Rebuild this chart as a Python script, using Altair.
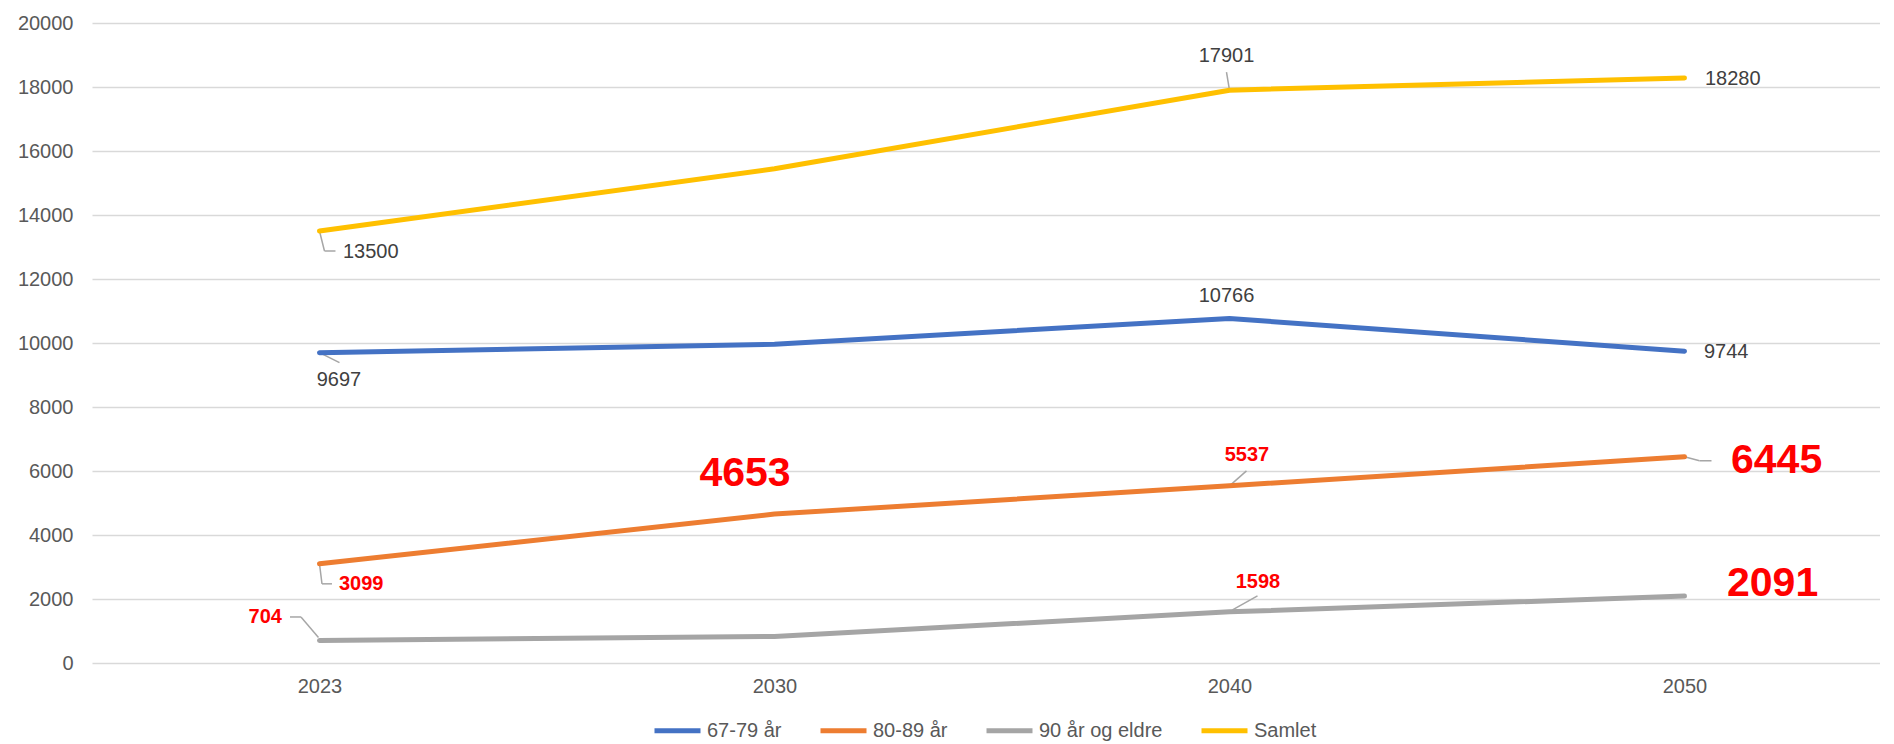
import altair as alt
import pandas as pd

# ---- data ----
years = ["2023", "2030", "2040", "2050"]
series_names = ["67-79 år", "80-89 år", "90 år og eldre", "Samlet"]
age_67_79 = [9697, 9960, 10766, 9744]
age_80_89 = [3099, 4653, 5537, 6445]
age_90_plus = [704, 830, 1598, 2091]
samlet = [13500, 15443, 17901, 18280]
y_ticks = [0, 2000, 4000, 6000, 8000, 10000, 12000, 14000, 16000, 18000, 20000]

colors = ["#4472C4", "#ED7D31", "#A5A5A5", "#FFC000"]
FONT = "Liberation Sans"

rows = []
for name, vals in zip(series_names, [age_67_79, age_80_89, age_90_plus, samlet]):
    for yr, v in zip(years, vals):
        rows.append({"series": name, "year": yr, "value": v})
df = pd.DataFrame(rows)

x_enc = alt.X(
    "year:O",
    sort=years,
    scale=alt.Scale(type="point", padding=0.4648, align=0.5378),
    axis=alt.Axis(title=None, labelAngle=0, labelFontSize=20, labelFont=FONT,
                  labelColor="#595959", labelPadding=13, ticks=False, tickSize=0,
                  domain=False, grid=False),
)
y_enc = alt.Y(
    "value:Q",
    scale=alt.Scale(domain=[0, 20000], nice=False),
    axis=alt.Axis(title=None, values=y_ticks, format="d", labelFontSize=20,
                  labelFont=FONT, labelColor="#595959", labelPadding=19,
                  ticks=False, tickSize=0, domain=False, gridColor="#D9D9D9",
                  gridWidth=1.5, minExtent=79, maxExtent=79),
)
color_enc = alt.Color(
    "series:N",
    scale=alt.Scale(domain=series_names, range=colors),
    legend=alt.Legend(title=None, orient="none", legendX=560, legendY=682,
                      direction="horizontal",
                      symbolType="stroke", symbolStrokeWidth=5, symbolSize=2116,
                      labelFontSize=20, labelFont=FONT, labelColor="#595959",
                      columnPadding=28, labelOffset=4, padding=0),
)

base = alt.Chart(df)


def sel(s, yr):
    return (alt.datum.series == s) & (alt.datum.year == yr)


# leader lines (pixel offsets from the data point)
leader_specs = [
    ("Samlet", "2023", [(0, 0, 5, 20), (5, 20, 16, 20)]),
    ("Samlet", "2040", [(0, 0, -3, -18)]),
    ("67-79 år", "2023", [(0, 0, 20, 10)]),
    ("80-89 år", "2023", [(0, 0, 2.5, 20), (2.5, 20, 12.5, 20)]),
    ("90 år og eldre", "2023", [(-1, -3, -18.5, -23.5), (-18.5, -23.5, -29.5, -23.5)]),
    ("80-89 år", "2040", [(0, 0, 17, -15)]),
    ("90 år og eldre", "2040", [(3, -2, 28, -16)]),
    ("80-89 år", "2050", [(0, 0, 15, 4), (15, 4, 27, 4)]),
]

layers = []
for s, yr, segs in leader_specs:
    for (x1, y1, x2, y2) in segs:
        layers.append(
            base.transform_filter(sel(s, yr))
            .mark_rule(color="#A6A6A6", strokeWidth=1.5,
                       xOffset=x1, yOffset=y1, x2Offset=x2, y2Offset=y2)
            .encode(x=x_enc, y=y_enc, x2="year:O", y2="value:Q")
        )

lines = base.mark_line(strokeWidth=5, strokeCap="round", strokeJoin="round").encode(
    x=x_enc, y=y_enc, color=color_enc
)
layers.append(lines)

GREY = "#404040"
RED = "#FF0000"
label_specs = [
    ("Samlet", "2023", 20, GREY, "normal", "left", 23.5, 21),
    ("Samlet", "2040", 20, GREY, "normal", "center", -3, -34),
    ("Samlet", "2050", 20, GREY, "normal", "left", 20.5, 1),
    ("67-79 år", "2023", 20, GREY, "normal", "center", 19.5, 27),
    ("67-79 år", "2040", 20, GREY, "normal", "center", -3, -22.5),
    ("67-79 år", "2050", 20, GREY, "normal", "left", 19.5, 1),
    ("80-89 år", "2023", 20, RED, "bold", "left", 19.5, 20),
    ("80-89 år", "2030", 41, RED, "bold", "center", -29.5, -40),
    ("80-89 år", "2040", 20, RED, "bold", "center", 17.5, -31),
    ("80-89 år", "2050", 41, RED, "bold", "left", 46.5, 4),
    ("90 år og eldre", "2023", 20, RED, "bold", "right", -37.5, -23.5),
    ("90 år og eldre", "2040", 20, RED, "bold", "center", 28.5, -30),
    ("90 år og eldre", "2050", 41, RED, "bold", "left", 42.5, -12),
]
for s, yr, size, col, weight, align, dx, dy in label_specs:
    layers.append(
        base.transform_filter(sel(s, yr))
        .mark_text(fontSize=size, font=FONT, color=col, fontWeight=weight,
                   align=align, baseline="middle", dx=dx, dy=dy)
        .encode(x=x_enc, y=y_enc, text=alt.Text("value:Q", format="d"))
    )

chart = (
    alt.layer(*layers)
    .properties(width=1788, height=640,
                padding={"left": 5, "top": 5, "right": 0, "bottom": 0},
                background="white")
    .configure_view(stroke=None)
)

chart.save("out.html", embed_options={"renderer": "svg", "actions": False})
